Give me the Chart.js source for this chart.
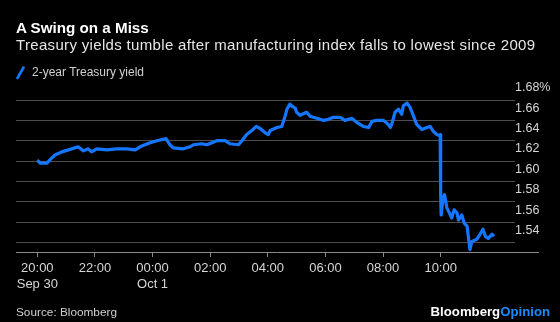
<!DOCTYPE html>
<html>
<head>
<meta charset="utf-8">
<script src="https://cdn.jsdelivr.net/npm/chart.js@4"></script>
<style>
  html, body { margin: 0; padding: 0; background: #000; }
  #wrap { position: relative; width: 560px; height: 322px; overflow: hidden; font-family: "Liberation Sans", Arial, Helvetica, sans-serif; }
  #chart { position: absolute; left: 0; top: 0; }
  .txt { position: absolute; white-space: nowrap; }
  #title { left: 16px; top: 18.5px; font-size: 15.2px; line-height: 18px; font-weight: bold; color: #fff; }
  #subtitle { left: 16px; top: 35.5px; font-size: 15px; line-height: 18px; color: #e6e6e6; letter-spacing: 0.33px; }
  #legend { left: 32px; top: 64px; font-size: 12px; line-height: 16px; color: #d0d0d0; }
  #swatch { position: absolute; left: 16px; top: 66px; }
  #source { left: 16px; top: 304px; font-size: 11.8px; line-height: 16px; color: #cfcfcf; }
  #logo { right: 10px; top: 304px; font-size: 13.2px; line-height: 16px; font-weight: bold; color: #fff; }
  #logo span { color: #1a8cff; }
</style>
</head>
<body>
<div id="wrap">
  <canvas id="chart" width="560" height="322"></canvas>
  <div class="txt" id="title">A Swing on a Miss</div>
  <div class="txt" id="subtitle">Treasury yields tumble after manufacturing index falls to lowest since 2009</div>
  <svg id="swatch" width="10" height="14"><line x1="1.5" y1="12" x2="7.5" y2="1.5" stroke="#1577ff" stroke-width="2.6" stroke-linecap="round"/></svg>
  <div class="txt" id="legend">2-year Treasury yield</div>
  <div class="txt" id="source">Source: Bloomberg</div>
  <div class="txt" id="logo">Bloomberg<span>Opinion</span></div>
</div>
<script>
// 2-year Treasury yield, Sep 30 20:00 to Oct 1 ~11:50
const times = [
  '20:00', '20:06', '20:20', '20:30', '20:37', '20:51', '21:05', '21:25', '21:36', '21:46',
  '21:53', '22:04', '22:25', '22:45', '23:06', '23:24', '23:34', '23:44', '23:55', '00:09',
  '00:28', '00:36', '00:43', '01:04', '01:18', '01:25', '01:42', '01:53', '02:14', '02:31',
  '02:41', '02:59', '03:06', '03:16', '03:27', '03:36', '03:44', '03:54', '04:01', '04:05',
  '04:19', '04:29', '04:36', '04:40', '04:46', '04:50', '04:57', '05:00', '05:07', '05:21',
  '05:28', '05:42', '05:56', '06:06', '06:17', '06:31', '06:41', '06:55', '07:05', '07:19',
  '07:30', '07:37', '07:47', '08:01', '08:11', '08:15', '08:18', '08:25', '08:32', '08:39',
  '08:42', '08:50', '08:56', '09:02', '09:10', '09:21', '09:31', '09:38', '09:45', '09:52',
  '09:57', '09:59', '10:00', '10:01', '10:05', '10:08', '10:13', '10:18', '10:23', '10:28',
  '10:34', '10:37', '10:44', '10:49', '10:55', '10:58', '11:01', '11:05', '11:15', '11:22',
  '11:28', '11:33', '11:39', '11:47', '11:51'
];
const yields = [
  1.621, 1.618, 1.618, 1.623, 1.626, 1.629, 1.631, 1.634, 1.630, 1.632,
  1.629, 1.632, 1.631, 1.632, 1.632, 1.631, 1.634, 1.636, 1.638, 1.640,
  1.642, 1.636, 1.633, 1.632, 1.634, 1.636, 1.637, 1.636, 1.640, 1.640,
  1.637, 1.636, 1.640, 1.646, 1.650, 1.654, 1.652, 1.648, 1.646, 1.650,
  1.653, 1.654, 1.664, 1.671, 1.676, 1.674, 1.672, 1.668, 1.665, 1.668,
  1.664, 1.662, 1.660, 1.661, 1.663, 1.663, 1.660, 1.662, 1.658, 1.654,
  1.653, 1.659, 1.660, 1.660, 1.656, 1.653, 1.656, 1.668, 1.671, 1.666,
  1.674, 1.677, 1.673, 1.666, 1.656, 1.651, 1.653, 1.654, 1.649, 1.646,
  1.645, 1.646, 1.587, 1.567, 1.584, 1.587, 1.574, 1.569, 1.564, 1.572,
  1.569, 1.562, 1.567, 1.559, 1.556, 1.544, 1.533, 1.541, 1.543, 1.548,
  1.553, 1.546, 1.544, 1.548, 1.546
];

const xTickHours = [0, 2, 4, 6, 8, 10, 12, 14];
const xTickLabels = [['20:00', 'Sep 30'], '22:00', ['00:00', 'Oct 1'], '02:00', '04:00', '06:00', '08:00', '10:00'];
const yTicks = [1.54, 1.56, 1.58, 1.60, 1.62, 1.64, 1.66, 1.68];

// hours after 20:00 on Sep 30
function toHours(t) {
    const [h, m] = t.split(':').map(Number);
    let v = h + m / 60 - 20;
    if (v < 0) v += 24;
    return v;
}

const points = times.map((t, i) => ({ x: toHours(t), y: yields[i] }));

// bottom axis line runs a little past the plot, under the labels
const axisLine = {
    id: 'axisLine',
    afterDraw(chart) {
        const { ctx, chartArea } = chart;
        ctx.save();
        ctx.strokeStyle = '#8a8a8a';
        ctx.lineWidth = 1;
        ctx.beginPath();
        ctx.moveTo(chartArea.left, Math.round(chartArea.bottom) + 0.5);
        ctx.lineTo(539, Math.round(chartArea.bottom) + 0.5);
        ctx.stroke();
        ctx.restore();
    }
};

const ctx = document.getElementById('chart').getContext('2d');
new Chart(ctx, {
    type: 'line',
    data: {
        datasets: [{
            label: '2-year Treasury yield',
            data: points,
            borderColor: '#1577ff',
            borderWidth: 3.2,
            pointRadius: 0,
            tension: 0,
            borderJoinStyle: 'round',
            clip: false
        }]
    },
    options: {
        responsive: false,
        animation: false,
        layout: { padding: { top: 100, left: 16, right: 0, bottom: 0 } },
        plugins: { legend: { display: false }, tooltip: { enabled: false } },
        scales: {
            x: {
                type: 'linear',
                min: -0.74,
                max: 16.58,
                afterBuildTicks: s => { s.ticks = xTickHours.map(v => ({ value: v })); },
                afterFit: s => { s.height = 70; },
                grid: { drawOnChartArea: false, color: '#8a8a8a', tickLength: 5 },
                border: { display: false },
                ticks: {
                    color: '#d6d6d6',
                    padding: 3,
                    maxRotation: 0,
                    autoSkip: false,
                    font: { family: '"Liberation Sans", Arial, sans-serif', size: 13, lineHeight: 1.26 },
                    callback: (v, i) => xTickLabels[i]
                }
            },
            y: {
                position: 'right',
                min: 1.5306,
                max: 1.68,
                afterBuildTicks: s => { s.ticks = yTicks.map(v => ({ value: v })); },
                afterFit: s => { s.width = 45; },
                grid: { color: '#4d4d4d', drawTicks: false },
                border: { display: false },
                ticks: {
                    color: '#d6d6d6',
                    padding: 0,
                    labelOffset: -12,
                    font: { family: '"Liberation Sans", Arial, sans-serif', size: 12.5 },
                    callback: (v, i) => (i === yTicks.length - 1 ? v.toFixed(2) + '%' : v.toFixed(2))
                }
            }
        }
    },
    plugins: [axisLine]
});
</script>
</body>
</html>
